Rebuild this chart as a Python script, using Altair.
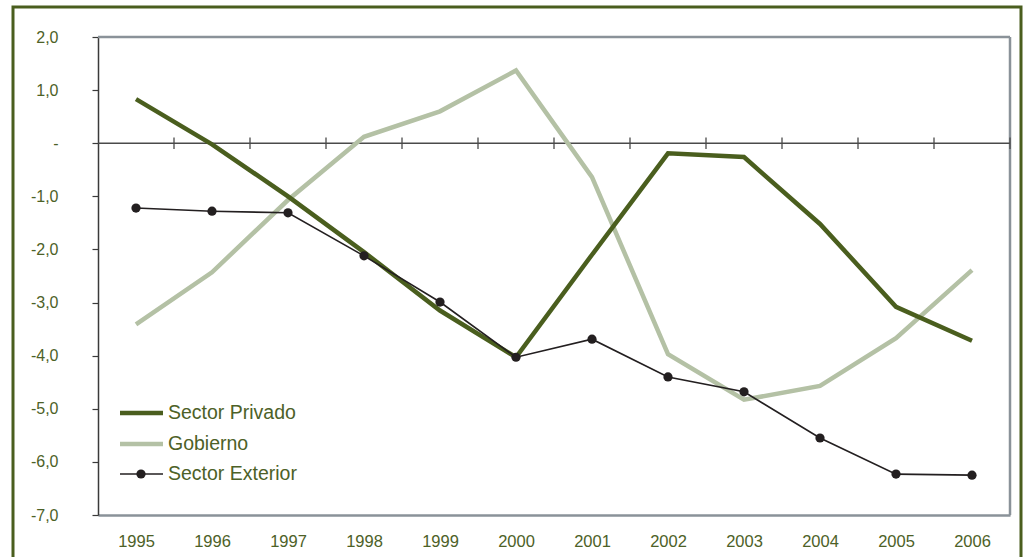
import altair as alt
import pandas as pd

years = [1995, 1996, 1997, 1998, 1999, 2000, 2001, 2002, 2003, 2004, 2005, 2006]
sector_privado = [0.83, -0.02, -1.0, -2.05, -3.15, -4.03, -2.1, -0.19, -0.26, -1.52, -3.08, -3.72]
gobierno = [-3.41, -2.43, -1.07, 0.12, 0.6, 1.37, -0.64, -3.97, -4.83, -4.57, -3.67, -2.39]
sector_exterior = [-1.22, -1.28, -1.31, -2.12, -2.99, -4.03, -3.69, -4.40, -4.68, -5.55, -6.23, -6.25]
series_names = ["Sector Privado", "Gobierno", "Sector Exterior"]
y_ticks = [-7, -6, -5, -4, -3, -2, -1, 0, 1, 2]

GREEN = "#4a5e1e"
LABEL = "#4d6127"
SAGE = "#b4c1a5"
DARK = "#231f20"
GRAY = "#8a9299"
FONT = "Liberation Sans"

W, H = 912, 478
ymin, ymax = -7, 2

df = pd.DataFrame({"year": years, "priv": sector_privado, "gob": gobierno, "ext": sector_exterior})
xs = alt.X("year:Q", scale=alt.Scale(domain=[years[0] - 0.5, years[-1] + 0.5], nice=False, zero=False),
           axis=alt.Axis(values=years, format="d", domainColor=GRAY, domainWidth=2.5, ticks=False,
                         labelColor=LABEL, labelFont=FONT, labelFontSize=16.5, labelPadding=18,
                         grid=False, title=None))
ys_scale = alt.Scale(domain=[ymin, ymax], nice=False, zero=False)

base = alt.Chart(df)

priv = base.mark_line(color=GREEN, strokeWidth=4.5).encode(
    x=xs,
    y=alt.Y("priv:Q", scale=ys_scale,
            axis=alt.Axis(values=y_ticks, grid=False, domainColor="#3a3a3a", domainWidth=1.5,
                          tickColor="#3a3a3a", tickSize=6, tickWidth=1.2,
                          labelColor=LABEL, labelFont=FONT, labelFontSize=16, labelPadding=34,
                          labelExpr="datum.value == 0 ? '-' : (datum.value < 0 ? '-' : '') + replace(format(abs(datum.value), '.1f'), '.', ',')",
                          title=None)))
gob = base.mark_line(color=SAGE, strokeWidth=4.5).encode(x="year:Q", y=alt.Y("gob:Q", scale=ys_scale))
ext_line = base.mark_line(color=DARK, strokeWidth=1.6).encode(x="year:Q", y=alt.Y("ext:Q", scale=ys_scale))
ext_pts = base.mark_circle(color=DARK, size=85, opacity=1).encode(x="year:Q", y=alt.Y("ext:Q", scale=ys_scale))

# zero line with boundary ticks
zero_df = pd.DataFrame({"x": [years[0] - 0.5], "x2": [years[-1] + 0.5], "y": [0]})
zero_line = alt.Chart(zero_df).mark_rule(color="#4a4a4a", strokeWidth=1.5).encode(
    x="x:Q", x2="x2:Q", y=alt.Y("y:Q", scale=ys_scale))
bounds = [y + 0.5 for y in years]
tick_df = pd.DataFrame({"x": bounds, "y1": [0.11] * len(bounds), "y2": [-0.11] * len(bounds)})
zero_ticks = alt.Chart(tick_df).mark_rule(color="#4a4a4a", strokeWidth=1.3).encode(
    x="x:Q", y=alt.Y("y1:Q", scale=ys_scale), y2="y2:Q")

# plot-area top and right border
one = pd.DataFrame({"a": [1]})
top_border = alt.Chart(one).mark_rule(color=GRAY, strokeWidth=2.5).encode(
    x=alt.value(0), x2=alt.value(W), y=alt.value(0))
right_border = alt.Chart(one).mark_rule(color=GRAY, strokeWidth=2.5).encode(
    x=alt.value(W), y=alt.value(0), y2=alt.value(H))

# manual legend
leg_colors = [GREEN, SAGE, DARK]
leg_widths = [4.5, 4.5, 1.6]
leg_y = [376, 407, 437]
legend_layers = []
for name, c, w, yy in zip(series_names, leg_colors, leg_widths, leg_y):
    d = pd.DataFrame({"name": [name]})
    legend_layers.append(alt.Chart(d).mark_rule(color=c, strokeWidth=w).encode(
        x=alt.value(22), x2=alt.value(65), y=alt.value(yy)))
    legend_layers.append(alt.Chart(d).mark_text(align="left", baseline="middle", font=FONT,
                                                fontSize=19.5, color=LABEL).encode(
        x=alt.value(70), y=alt.value(yy), text="name:N"))
dot = alt.Chart(pd.DataFrame({"name": [series_names[2]]})).mark_circle(color=DARK, size=85, opacity=1).encode(
    x=alt.value(43), y=alt.value(leg_y[2]))
legend_layers.append(dot)

# outer frame
frame = alt.Chart(one).mark_rect(fill="transparent", stroke=GREEN, strokeWidth=3).encode(
    x=alt.value(-85), x2=alt.value(923), y=alt.value(-30), y2=alt.value(545))

chart = alt.layer(frame, top_border, right_border, zero_line, zero_ticks, gob, priv, ext_line, ext_pts,
                  *legend_layers).properties(
    width=W, height=H,
    autosize=alt.AutoSizeParams(type="none"),
    padding={"left": 98, "top": 37, "right": 19, "bottom": 42},
).configure_view(stroke=None).configure(background="white")

chart.save("out.html", embed_options={"renderer": "svg", "actions": False})
